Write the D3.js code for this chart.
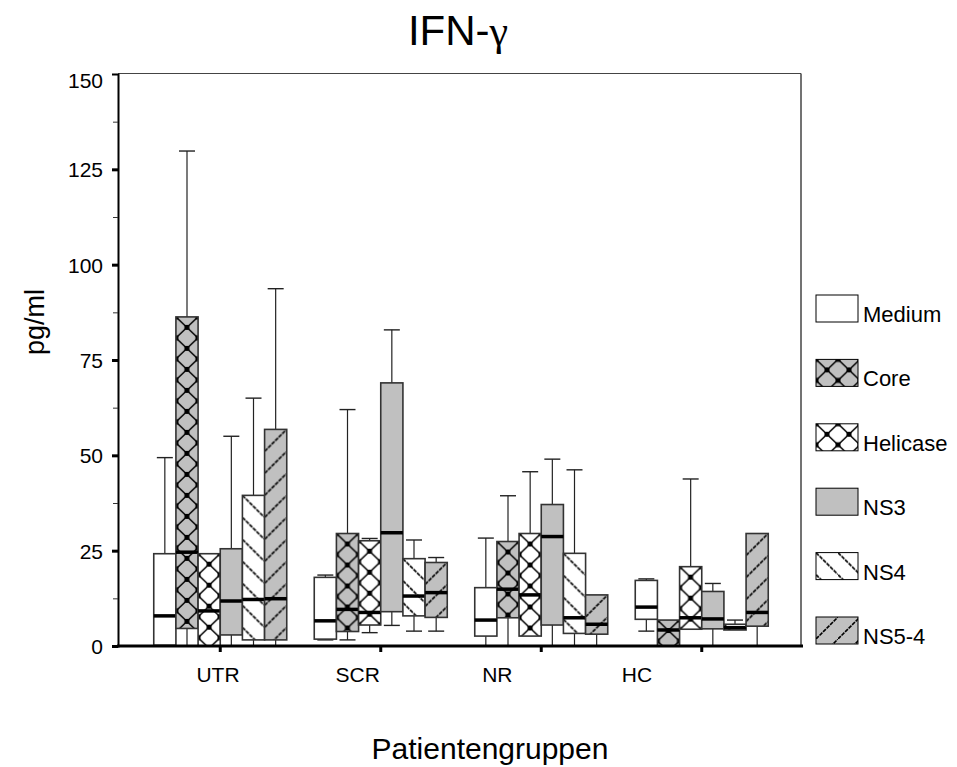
<!DOCTYPE html>
<html>
<head>
<meta charset="utf-8">
<script src="https://cdn.jsdelivr.net/npm/d3@7"></script>
<style>
  body { margin: 0; background: #fff; }
  text { font-family: "Liberation Sans", Arial, sans-serif; fill: #000; }
</style>
</head>
<body>
<svg id="chart" width="957" height="767"></svg>
<script>
// groups and series
const groups = ['UTR', 'SCR', 'NR', 'HC']
const series = ['Medium', 'Core', 'Helicase', 'NS3', 'NS4', 'NS5-4']

// [low whisker, q1, median, q3, high whisker] for UTR, SCR, NR, HC
const medium   = [[0, 0.2, 7.9, 24.2, 49.4], [1.6, 1.8, 6.6, 18, 18.6], [0, 2.6, 6.8, 15.3, 28.3], [3.9, 7, 10.2, 17.2, 17.6]]
const core     = [[0, 4.6, 24.6, 86.3, 129.8], [1.6, 3.8, 9.6, 29.5, 62], [0, 7.4, 14.9, 27.4, 39.4], [0, 0, 4.2, 6.8, 6.8]]
const helicase = [[0, 0, 9.2, 24.2, 24.2], [3.5, 5.5, 8.8, 27.6, 28.2], [2.6, 2.6, 13.4, 29.5, 45.7], [4.4, 4.4, 7.4, 20.8, 43.8]]
const ns3      = [[0, 2.9, 11.8, 25.5, 55], [5.4, 9, 29.7, 69, 82.9], [0, 5.5, 28.7, 37.1, 49], [0, 4.5, 7.1, 14.3, 16.4]]
const ns4      = [[0, 1.6, 12.2, 39.5, 65], [3.9, 7.9, 13.1, 22.9, 27.8], [0, 3.3, 7.4, 24.3, 46.2], [4.2, 4.2, 4.8, 5.7, 6.8]]
const ns54     = [[0, 1.6, 12.4, 56.8, 93.7], [3.9, 7.5, 14, 21.9, 23.2], [0, 3.1, 5.7, 13.4, 13.4], [0, 5.2, 8.8, 29.5, 29.5]]

const yTicks = [0, 25, 50, 75, 100, 125, 150]
const yMinor = [12.5, 37.5, 62.5, 87.5, 112.5, 137.5]

const stats = { 'Medium': medium, 'Core': core, 'Helicase': helicase, 'NS3': ns3, 'NS4': ns4, 'NS5-4': ns54 }

// fill style per series
const fills = {
  'Medium':   { bg: '#fff',    kind: 'none' },
  'Core':     { bg: '#c0c0c0', kind: 'diamond' },
  'Helicase': { bg: '#fff',    kind: 'diamond' },
  'NS3':      { bg: '#c0c0c0', kind: 'none' },
  'NS4':      { bg: '#fff',    kind: 'back' },
  'NS5-4':    { bg: '#c0c0c0', kind: 'fwd' }
}

const svg = d3.select('#chart')
const defs = svg.append('defs')

let patId = 0
// pattern anchored at the box's own left/top edge
const makeFill = (name, x0, y0) => {
  const f = fills[name]
  if (f.kind === 'none') return f.bg
  const id = 'pat' + (patId++)
  const tw = 22, th = f.kind === 'diamond' ? 21 : 22
  const p = defs.append('pattern')
    .attr('id', id)
    .attr('patternUnits', 'userSpaceOnUse')
    .attr('x', x0).attr('y', y0)
    .attr('width', tw).attr('height', th)
  p.append('rect').attr('width', tw).attr('height', th).attr('fill', f.bg)
  if (f.kind === 'diamond') {
    p.append('path')
      .attr('d', `M0,0L${tw},${th}M${tw},0L0,${th}`)
      .attr('stroke', '#000').attr('stroke-width', 1.5)
    const sq = [[tw / 2, th / 2], [0, 0], [tw, 0], [0, th], [tw, th]]
    p.selectAll('rect.sq').data(sq).enter().append('rect')
      .attr('class', 'sq')
      .attr('x', d => d[0] - 2.5).attr('y', d => d[1] - 2.5)
      .attr('width', 5).attr('height', 5).attr('fill', '#000')
  } else if (f.kind === 'back') {
    p.append('path').attr('d', `M0,0L${tw},${th}`)
      .attr('stroke', '#000').attr('stroke-width', 1.6).attr('stroke-dasharray', '4,1')
  } else {
    p.append('path').attr('d', `M0,${th}L${tw},0`)
      .attr('stroke', '#000').attr('stroke-width', 1.6).attr('stroke-dasharray', '4,1')
  }
  return `url(#${id})`
}

// scales
const x0 = d3.scaleBand().domain(groups).range([140, 782])
const x1 = d3.scaleBand().domain(series).range([0, 133])
const labelX = d3.scalePoint().domain(groups).range([218, 637])
const y = d3.scaleLinear().domain([0, 150]).range([646, 74])
const legendY = d3.scalePoint().domain(series).range([295, 617])

// frame
svg.append('line').attr('x1', 118).attr('x2', 801).attr('y1', 73.5).attr('y2', 73.5)
  .attr('stroke', '#444').attr('stroke-width', 1)
svg.append('line').attr('x1', 801).attr('x2', 801).attr('y1', 73.5).attr('y2', 646)
  .attr('stroke', '#444').attr('stroke-width', 1.5)

// boxes
const plot = svg.append('g')
groups.forEach((g, gi) => {
  series.forEach(s => {
    const [lo, q1, med, q3, hi] = stats[s][gi]
    const bx = x0(g) + x0.bandwidth() / 2 - 66.5 + x1(s)
    const bw = x1.bandwidth()
    const cx = bx + bw / 2
    const cell = plot.append('g')
    // whiskers
    const wh = []
    if (hi > q3) wh.push([y(q3), y(hi)])
    if (lo < q1) wh.push([y(q1), y(lo)])
    wh.forEach(([a, b]) => {
      cell.append('line').attr('x1', cx).attr('x2', cx).attr('y1', a).attr('y2', b)
        .attr('stroke', '#222').attr('stroke-width', 1.2)
      cell.append('line').attr('x1', cx - 8).attr('x2', cx + 8).attr('y1', b).attr('y2', b)
        .attr('stroke', '#222').attr('stroke-width', 1.4)
    })
    cell.append('rect')
      .attr('x', bx).attr('y', y(q3))
      .attr('width', bw).attr('height', Math.max(y(q1) - y(q3), 0.5))
      .attr('fill', makeFill(s, bx, y(q3)))
      .attr('stroke', '#333').attr('stroke-width', 1.6)
    cell.append('line')
      .attr('x1', bx).attr('x2', bx + bw).attr('y1', y(med)).attr('y2', y(med))
      .attr('stroke', '#000').attr('stroke-width', 3.5)
  })
})

// y axis
const yAxis = svg.append('g').attr('transform', 'translate(118,0)')
  .call(d3.axisLeft(y).tickValues(yTicks).tickSize(6).tickPadding(9))
yAxis.select('.domain').attr('stroke', '#000').attr('stroke-width', 2)
yAxis.selectAll('.tick line').attr('stroke', '#000').attr('stroke-width', 3)
yAxis.selectAll('.tick text')
  .style('font-family', '"Liberation Sans", Arial, sans-serif')
  .style('font-size', '21px')
  .attr('dy', d => d === 150 ? '0.62em' : '0.35em')
yAxis.selectAll('.tick').filter(d => d === 150).select('line').attr('stroke-width', 1)

const yMin = svg.append('g').attr('transform', 'translate(118,0)')
  .call(d3.axisLeft(y).tickValues(yMinor).tickSize(5).tickFormat(''))
yMin.select('.domain').remove()
yMin.selectAll('.tick line').attr('stroke', '#333').attr('stroke-width', 1)

// x axis
svg.append('line').attr('x1', 117).attr('x2', 803).attr('y1', 646).attr('y2', 646)
  .attr('stroke', '#000').attr('stroke-width', 3)
svg.append('g').selectAll('line').data(groups).enter().append('line')
  .attr('x1', d => x0(d) + x0.bandwidth() / 2).attr('x2', d => x0(d) + x0.bandwidth() / 2)
  .attr('y1', 646).attr('y2', 652)
  .attr('stroke', '#000').attr('stroke-width', 3)
svg.append('g').selectAll('text').data(groups).enter().append('text')
  .attr('x', d => labelX(d)).attr('y', 682)
  .attr('text-anchor', 'middle')
  .style('font-size', '21px')
  .text(d => d)

// titles
const title = svg.append('text').attr('x', 458).attr('y', 45).attr('text-anchor', 'middle')
  .style('font-size', '42px')
title.append('tspan').text('IFN-')
title.append('tspan').style('font-family', '"Liberation Serif", "Times New Roman", serif').text('γ')

svg.append('text').attr('x', 490).attr('y', 759).attr('text-anchor', 'middle')
  .style('font-size', '30px').text('Patientengruppen')

svg.append('text').attr('transform', 'translate(44,322) rotate(-90)').attr('text-anchor', 'middle')
  .style('font-size', '27px').text('pg/ml')

// legend
const legend = svg.append('g')
series.forEach(s => {
  const ly = legendY(s)
  legend.append('rect')
    .attr('x', 816).attr('y', ly).attr('width', 42).attr('height', 27)
    .attr('fill', makeFill(s, 816, ly))
    .attr('stroke', '#000').attr('stroke-width', 1)
  legend.append('text')
    .attr('x', 863).attr('y', ly + 27)
    .style('font-size', '22px')
    .text(s)
})
</script>
</body>
</html>
